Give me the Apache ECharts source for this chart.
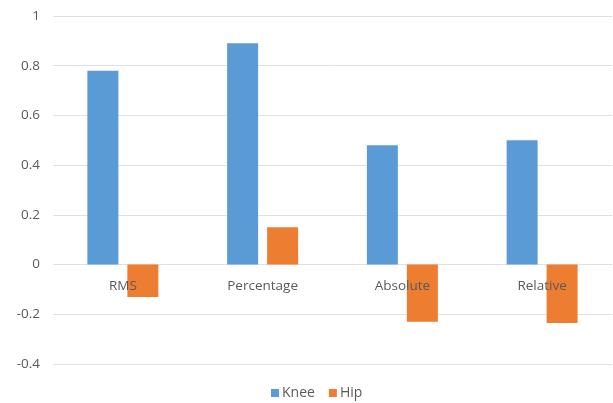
<!DOCTYPE html>
<html>
<head>
<meta charset="utf-8">
<script src="https://cdn.jsdelivr.net/npm/echarts@6/dist/echarts.min.js"></script>
<style>
  html, body { margin: 0; padding: 0; background: #fff; }
  #main { width: 613px; height: 403px; }
</style>
</head>
<body>
<div id="main"></div>
<script>
// 数据
var categories = ['RMS', 'Percentage', 'Absolute', 'Relative'];
var kneeValues = [0.78, 0.89, 0.48, 0.50];
var hipValues = [-0.13, 0.15, -0.23, -0.235];
var seriesNames = ['Knee', 'Hip'];

var chart = echarts.init(document.getElementById('main'));

chart.setOption({
    animation: false,
    textStyle: { fontFamily: 'Open Sans, sans-serif' },
    grid: { left: 53, right: 1, top: 16, bottom: 39 },
    legend: {
        data: seriesNames,
        bottom: -2,
        left: 266,
        itemWidth: 8,
        itemHeight: 8,
        itemGap: 14,
        icon: 'rect',
        textStyle: { color: '#595959', fontSize: 14, padding: [0, 0, 0, -2] }
    },
    xAxis: {
        type: 'category',
        data: categories,
        // 标签放在 0 线下方（网格底部到 0 线是 100px）
        offset: -100,
        axisLine: { show: false, onZero: false },
        axisTick: { show: false },
        axisLabel: { color: '#595959', fontSize: 13.5, margin: 15 },
        z: 5
    },
    yAxis: {
        type: 'value',
        min: -0.4,
        max: 1,
        interval: 0.2,
        axisLine: { show: false },
        axisTick: { show: false },
        axisLabel: {
            color: '#595959',
            fontSize: 13.5,
            margin: 13,
            formatter: function (v) { return String(Math.round(v * 10) / 10); }
        },
        splitLine: { lineStyle: { color: '#e0e0e0', width: 1 } }
    },
    series: [{
        name: seriesNames[0],
        type: 'bar',
        data: kneeValues,
        barWidth: 31,
        barGap: '29%',
        itemStyle: { color: '#5B9BD5' }
    }, {
        name: seriesNames[1],
        type: 'bar',
        data: hipValues,
        barWidth: 31,
        itemStyle: { color: '#ED7D31' }
    }]
});
</script>
</body>
</html>
